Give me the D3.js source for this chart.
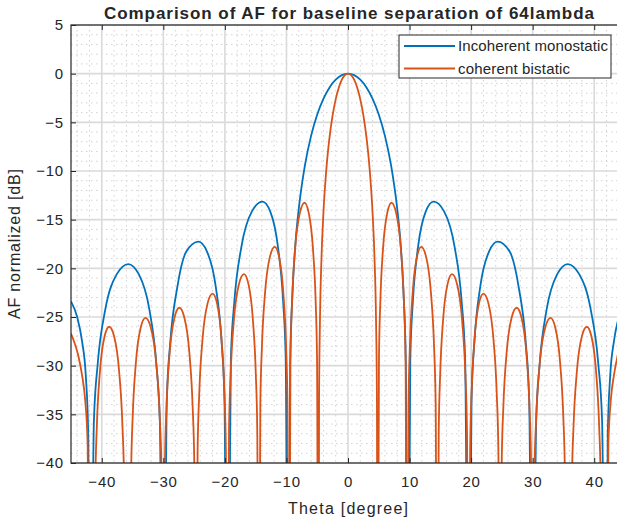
<!DOCTYPE html>
<html>
<head>
<meta charset="utf-8">
<script src="https://cdn.jsdelivr.net/npm/d3@7"></script>
<style>
  body { margin: 0; background: #fff; }
  text { font-family: "Liberation Sans", Arial, sans-serif; fill: #262626; }
</style>
</head>
<body>
<svg id="chart" width="617" height="522"></svg>
<script>
"use strict";

/* Theta [degree] and AF normalized [dB] */
const thetaMono = [-45, -44, -43.2, -42.6, -42.2, -41.9, -41.28, -40.66, -39.42, -37.56, -35.7, -33.99, -32.28, -31.14, -30.57, -30,
  -29.43, -28.86, -27.72, -26.29, -24.3, -22.89, -21.48, -20.54, -20.07, -19.6, -19.03, -18.46, -17.32, -15.61, -13.9, -12.64,
  -11.38, -10.54, -10.12, -9.7, -9.4, -9, -8.5, -8, -7, -6, -5, -4, -3, -2, -1,
  0, 1, 2, 3, 4, 5, 6, 7, 8, 8.5, 9, 9.4, 9.7, 10.12, 10.54, 11.38, 12.64, 13.9, 15.61, 17.32, 18.46, 19.03, 19.6,
  20.07, 20.54, 21.48, 22.89, 24.3, 26.29, 27.72, 28.86, 29.43, 30, 30.57, 31.14, 32.28, 33.99, 35.7, 37.56, 39.42,
  40.66, 41.28, 41.9, 42.2, 42.6, 43.2, 44, 45];
const afMono = [-23.4, -25, -27.5, -31, -37, -70, -35.7, -29.8, -24.2, -20.6, -19.56, -20.6, -24.2, -29.8, -35.7, -70,
  -33.4, -27.5, -21.9, -18.3, -17.26, -18.3, -21.9, -27.5, -33.4, -70, -29.3, -23.4, -17.8, -14.15, -13.15, -14.15,
  -17.8, -23.4, -29.3, -70, -29.9, -22.3, -17.1, -13.9, -9.42, -6.39, -4.19, -2.58, -1.41, -0.62, -0.15,
  0, -0.15, -0.62, -1.41, -2.58, -4.19, -6.39, -9.42, -13.9, -17.1, -22.3, -29.9, -70, -29.3, -23.4, -17.8, -14.15, -13.15, -14.15, -17.8, -23.4, -29.3, -70,
  -33.4, -27.5, -21.9, -18.3, -17.26, -18.3, -21.9, -27.5, -33.4, -70, -35.7, -29.8, -24.2, -20.6, -19.56, -20.6, -24.2,
  -29.8, -35.7, -70, -37, -31, -27.5, -25, -23.4];

const thetaBi = [-45, -44.4, -43.8, -43.2, -42.7, -42.3, -42, -41.65, -41.3, -41.05, -40.8, -40.3, -39.55, -38.8, -37.99, -37.18,
  -36.64, -36.37, -36.1, -35.8, -35.5, -35.24, -34.98, -34.46, -33.68, -32.9, -32.03, -31.16, -30.58, -30.29, -30,
  -29.74, -29.48, -28.96, -28.18, -27.4, -26.59, -25.78, -25.24, -24.97, -24.7, -24.43, -24.16, -23.62, -22.81, -22,
  -21.28, -20.56, -20.08, -19.84, -19.6, -19.33, -19.06, -18.52, -17.71, -16.9, -16.18, -15.46, -14.98, -14.74, -14.5,
  -14.24, -13.98, -13.46, -12.68, -11.9, -11.21, -10.52, -10.06, -9.83, -9.6, -9.35, -9.09, -8.58, -7.82, -7.06,
  -6.38, -5.7, -5.25, -5.03, -4.8, -4.7, -4.55, -4.3, -4, -3.5, -3, -2.5, -2, -1.5, -1, -0.5,
  0, 0.5, 1, 1.5, 2, 2.5, 3, 3.5, 4, 4.3, 4.55, 4.7, 4.8, 5.03, 5.25, 5.7, 6.38, 7.06, 7.82, 8.58, 9.09, 9.35, 9.6,
  9.83, 10.06, 10.52, 11.21, 11.9, 12.68, 13.46, 13.98, 14.24, 14.5, 14.74, 14.98, 15.46, 16.18, 16.9, 17.71, 18.52,
  19.06, 19.33, 19.6, 19.84, 20.08, 20.56, 21.28, 22, 22.81, 23.62, 24.16, 24.43, 24.7, 24.97, 25.24, 25.78, 26.59,
  27.4, 28.18, 28.96, 29.48, 29.74, 30, 30.29, 30.58, 31.16, 32.03, 32.9, 33.68, 34.46, 34.98, 35.24, 35.5, 35.8,
  36.1, 36.37, 36.64, 37.18, 37.99, 38.8, 39.55, 40.3, 40.8, 41.05, 41.3, 41.65, 42, 42.3, 42.7, 43.2, 43.8, 44.4, 45];
const afBi = [-26.7, -27.7, -29, -31, -33.5, -38, -70, -50, -70, -42.1, -36.2, -30.6, -27, -26, -27, -30.6,
  -36.2, -42.1, -70, -50, -70, -41.2, -35.3, -29.7, -26.1, -25.1, -26.1, -29.7, -35.3, -41.2, -70,
  -40.1, -34.2, -28.6, -25.05, -24.05, -25.05, -28.6, -34.2, -40.1, -70, -38.7, -32.8, -27.2, -23.6, -22.6,
  -23.6, -27.2, -32.8, -38.7, -70, -36.7, -30.8, -25.2, -21.6, -20.6, -21.6, -25.2, -30.8, -36.7, -70,
  -33.9, -28, -22.4, -18.8, -17.8, -18.8, -22.4, -28, -33.9, -70, -29.4, -23.5, -17.9, -14.3, -13.26,
  -14.3, -17.9, -23.5, -29.4, -70, -33.4, -25.2, -18.8, -14.4, -9.68, -6.55, -4.29, -2.64, -1.45, -0.62, -0.15,
  0, -0.15, -0.62, -1.45, -2.64, -4.29, -6.55, -9.68, -14.4, -18.8, -25.2, -33.4, -70, -29.4, -23.5, -17.9, -14.3, -13.26, -14.3, -17.9, -23.5, -29.4, -70,
  -33.9, -28, -22.4, -18.8, -17.8, -18.8, -22.4, -28, -33.9, -70, -36.7, -30.8, -25.2, -21.6, -20.6, -21.6, -25.2,
  -30.8, -36.7, -70, -38.7, -32.8, -27.2, -23.6, -22.6, -23.6, -27.2, -32.8, -38.7, -70, -40.1, -34.2, -28.6, -25.05,
  -24.05, -25.05, -28.6, -34.2, -40.1, -70, -41.2, -35.3, -29.7, -26.1, -25.1, -26.1, -29.7, -35.3, -41.2, -70, -50,
  -70, -42.1, -36.2, -30.6, -27, -26, -27, -30.6, -36.2, -42.1, -70, -50, -70, -38, -33.5, -31, -29, -27.7, -26.7];

const xTicks = [-40, -30, -20, -10, 0, 10, 20, 30, 40];
const yTicks = [5, 0, -5, -10, -15, -20, -25, -30, -35, -40];
const seriesNames = ["Incoherent monostatic", "coherent bistatic"];
const seriesColors = ["#0072BD", "#D95319"];

const svg = d3.select("#chart");
const plot = {left: 71, right: 625, top: 25, bottom: 463};

const x = d3.scaleLinear().domain([-45, 45]).range([plot.left, plot.right]);
const y = d3.scaleLinear().domain([-40, 5]).range([plot.bottom, plot.top]);

/* Minor grid (dotted) */
const grid = svg.append("g");
grid.selectAll(".minor-x")
    .data(d3.range(-44, 46, 2).filter(v => v % 10 !== 0))
    .enter().append("line")
    .attr("x1", d => x(d)).attr("x2", d => x(d))
    .attr("y1", plot.top).attr("y2", plot.bottom)
    .attr("stroke", "#d2d2d2").attr("stroke-width", 1)
    .attr("stroke-dasharray", "1.5,3.5");
grid.selectAll(".minor-y")
    .data(d3.range(-39, 5, 1).filter(v => v % 5 !== 0))
    .enter().append("line")
    .attr("x1", plot.left).attr("x2", plot.right)
    .attr("y1", d => y(d)).attr("y2", d => y(d))
    .attr("stroke", "#d2d2d2").attr("stroke-width", 1)
    .attr("stroke-dasharray", "1.5,3.5");

/* Major grid */
grid.selectAll(".major-x")
    .data(xTicks)
    .enter().append("line")
    .attr("x1", d => x(d)).attr("x2", d => x(d))
    .attr("y1", plot.top).attr("y2", plot.bottom)
    .attr("stroke", "#dadada").attr("stroke-width", 1.6);
grid.selectAll(".major-y")
    .data(yTicks)
    .enter().append("line")
    .attr("x1", plot.left).attr("x2", plot.right)
    .attr("y1", d => y(d)).attr("y2", d => y(d))
    .attr("stroke", "#dadada").attr("stroke-width", 1.6);

/* Curves */
svg.append("clipPath").attr("id", "clip")
  .append("rect")
    .attr("x", plot.left).attr("y", plot.top)
    .attr("width", plot.right - plot.left).attr("height", plot.bottom - plot.top);

const line = d3.line()
    .x(d => x(d[0]))
    .y(d => y(d[1]))
    .curve(d3.curveMonotoneX);

const series = [d3.zip(thetaMono, afMono), d3.zip(thetaBi, afBi)];
svg.append("g").attr("clip-path", "url(#clip)")
  .selectAll("path")
  .data(series)
  .enter().append("path")
    .attr("d", line)
    .attr("fill", "none")
    .attr("stroke", (d, i) => seriesColors[i])
    .attr("stroke-width", 1.8)
    .attr("stroke-linejoin", "round");

/* Axes: inward ticks on all four sides */
function styleAxis(g) {
  g.select(".domain").remove();
  g.selectAll(".tick line").attr("stroke", "#262626");
  g.selectAll(".tick text")
      .style("font-size", "15px")
      .style("letter-spacing", "0.8px")
      .attr("fill", "#262626");
}
svg.append("g")
    .attr("transform", "translate(0," + plot.bottom + ")")
    .call(d3.axisBottom(x).tickValues(xTicks).tickSizeInner(-5).tickSizeOuter(0).tickPadding(13))
    .call(styleAxis);
svg.append("g")
    .attr("transform", "translate(0," + plot.top + ")")
    .call(d3.axisTop(x).tickValues(xTicks).tickSizeInner(-5).tickSizeOuter(0).tickFormat(""))
    .call(styleAxis);
svg.append("g")
    .attr("transform", "translate(" + plot.left + ",0)")
    .call(d3.axisLeft(y).tickValues(yTicks).tickSizeInner(-5).tickSizeOuter(0).tickPadding(7))
    .call(styleAxis);
svg.append("g")
    .attr("transform", "translate(" + plot.right + ",0)")
    .call(d3.axisRight(y).tickValues(yTicks).tickSizeInner(-5).tickSizeOuter(0).tickFormat(""))
    .call(styleAxis);

svg.append("rect")
    .attr("x", plot.left).attr("y", plot.top)
    .attr("width", plot.right - plot.left).attr("height", plot.bottom - plot.top)
    .attr("fill", "none").attr("stroke", "#262626").attr("stroke-width", 1.2);

/* Labels */
svg.append("text")
    .attr("x", 349).attr("y", 19)
    .attr("text-anchor", "middle")
    .style("font-size", "17px").style("font-weight", "bold")
    .attr("textLength", 490)
    .text("Comparison of AF for baseline separation of 64lambda");
svg.append("text")
    .attr("x", 348).attr("y", 514)
    .attr("text-anchor", "middle")
    .style("font-size", "16px")
    .attr("textLength", 120)
    .text("Theta [degree]");
svg.append("text")
    .attr("transform", "translate(20," + ((plot.top + plot.bottom) / 2) + ") rotate(-90)")
    .attr("text-anchor", "middle")
    .style("font-size", "16px")
    .attr("textLength", 150)
    .text("AF normalized [dB]");

/* Legend */
const legend = svg.append("g").attr("transform", "translate(399,35)");
legend.append("rect")
    .attr("width", 212).attr("height", 43)
    .attr("fill", "#fff").attr("stroke", "#262626").attr("stroke-width", 1);
const item = legend.selectAll(".item")
    .data(seriesNames)
  .enter().append("g")
    .attr("transform", (d, i) => "translate(0," + (11 + i * 22.5) + ")");
item.append("line")
    .attr("x1", 5).attr("x2", 56)
    .attr("stroke", (d, i) => seriesColors[i])
    .attr("stroke-width", 1.8);
item.append("text")
    .attr("x", 59).attr("dy", "0.35em")
    .style("font-size", "15px")
    .attr("textLength", (d, i) => [150, 112][i])
    .text(d => d);
</script>
</body>
</html>
